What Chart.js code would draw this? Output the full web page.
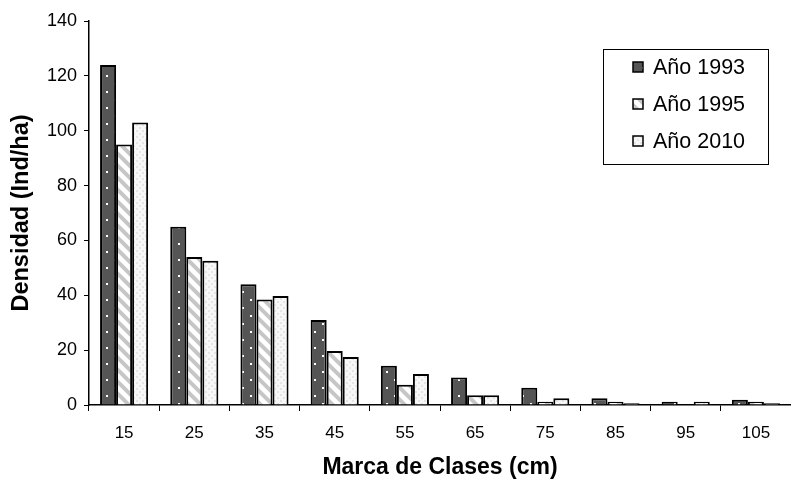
<!DOCTYPE html>
<html>
<head>
<meta charset="utf-8">
<script src="https://cdn.jsdelivr.net/npm/chart.js@4/dist/chart.umd.min.js"></script>
<style>
  html, body { margin: 0; padding: 0; background: #fff; }
  #wrap { width: 791px; height: 485px; position: relative; }
</style>
</head>
<body>
<div id="wrap"><canvas id="chart"></canvas></div>
<script>
// data
const clases = ['15', '25', '35', '45', '55', '65', '75', '85', '95', '105'];
const anio1993 = [124, 65, 44, 31, 14.3, 10, 6.3, 2.5, 1.2, 1.9];
const anio1995 = [95, 54, 38.5, 19.7, 7.4, 3.6, 1.2, 1.2, 0, 1.2];
const anio2010 = [103, 52.6, 39.7, 17.5, 11.3, 3.6, 2.5, 0.6, 1.2, 0.6];
const seriesNames = ['Año 1993', 'Año 1995', 'Año 2010'];
const yTicks = [0, 20, 40, 60, 80, 100, 120, 140];

const FONT = "'Liberation Sans', Arial, sans-serif";

// pattern fills, roughly like the old spreadsheet ones
function makePattern(kind) {
    const c = document.createElement('canvas');
    const g = c.getContext('2d');
    if (kind === 'dots') {
        c.width = 16; c.height = 16;
        g.fillStyle = '#555555';
        g.fillRect(0, 0, 16, 16);
        g.fillStyle = '#ffffff';
        g.fillRect(2, 3, 2, 2);
        g.fillRect(10, 11, 2, 2);
    } else if (kind === 'stripes') {
        c.width = 12; c.height = 12;
        g.fillStyle = '#ffffff';
        g.fillRect(0, 0, 12, 12);
        g.strokeStyle = '#c6c6c6';
        g.lineWidth = 4;
        g.beginPath();
        g.moveTo(-3, -3); g.lineTo(15, 15);
        g.moveTo(-15, -3); g.lineTo(3, 15);
        g.moveTo(9, -3); g.lineTo(27, 15);
        g.stroke();
    } else {
        c.width = 6; c.height = 6;
        g.fillStyle = '#f7f7f7';
        g.fillRect(0, 0, 6, 6);
        g.fillStyle = '#e4e4e4';
        g.fillRect(1, 1, 2, 2);
        g.fillRect(4, 4, 2, 2);
    }
    return g.createPattern(c, 'repeat');
}

const fills = [makePattern('dots'), makePattern('stripes'), makePattern('light')];

// boxed legend inside the plot, top right
const boxLegend = {
    id: 'boxLegend',
    afterDraw(chart) {
        const ctx = chart.ctx;
        ctx.save();
        ctx.strokeStyle = '#000';
        ctx.lineWidth = 1;
        ctx.fillStyle = '#fff';
        ctx.fillRect(603.5, 49.5, 165, 115);
        ctx.strokeRect(603.5, 49.5, 165, 115);
        const rows = [67, 104, 141];
        ctx.font = '21.5px ' + FONT;
        ctx.textBaseline = 'middle';
        seriesNames.forEach((name, i) => {
            ctx.fillStyle = fills[i];
            ctx.fillRect(633, rows[i] - 5, 10, 10);
            ctx.lineWidth = 1.5;
            ctx.strokeStyle = '#000';
            ctx.strokeRect(633, rows[i] - 5, 10, 10);
            ctx.fillStyle = '#000';
            ctx.fillText(name, 653, rows[i] + 1);
        });
        ctx.restore();
    }
};

const datasets = [anio1993, anio1995, anio2010].map((vals, i) => ({
    label: seriesNames[i],
    data: vals,
    backgroundColor: fills[i],
    borderColor: '#000',
    borderWidth: 2,
    barPercentage: 1.0,
    categoryPercentage: 0.685
}));

new Chart(document.getElementById('chart'), {
    type: 'bar',
    data: { labels: clases, datasets: datasets },
    plugins: [boxLegend],
    options: {
        responsive: true,
        maintainAspectRatio: false,
        animation: false,
        layout: { padding: { top: 21, right: 0, left: 0, bottom: 0 } },
        plugins: {
            legend: { display: false },
            tooltip: { enabled: false }
        },
        scales: {
            x: {
                grid: {
                    offset: true,
                    drawOnChartArea: false,
                    drawTicks: true,
                    tickLength: 6,
                    color: '#000',
                    lineWidth: 1
                },
                border: { color: '#000', width: 1.5 },
                ticks: {
                    color: '#000',
                    padding: 12,
                    maxRotation: 0,
                    font: { family: FONT, size: 17 }
                },
                title: {
                    display: true,
                    text: 'Marca de Clases (cm)',
                    color: '#000',
                    font: { family: FONT, size: 23, weight: 'bold' },
                    padding: { top: 4, bottom: 4 }
                },
                afterFit(scale) { scale.height = 80; }
            },
            y: {
                min: 0,
                max: 140,
                afterBuildTicks(scale) {
                    scale.ticks = yTicks.map(v => ({ value: v }));
                },
                grid: {
                    drawOnChartArea: false,
                    drawTicks: true,
                    tickLength: 5,
                    color: '#000',
                    lineWidth: 1
                },
                border: { color: '#000', width: 1.5 },
                ticks: {
                    color: '#000',
                    padding: 7,
                    font: { family: FONT, size: 18 }
                },
                title: {
                    display: true,
                    text: 'Densidad (Ind/ha)',
                    color: '#000',
                    font: { family: FONT, size: 23.5, weight: 'bold' },
                    padding: { top: 7, bottom: 0 }
                },
                afterFit(scale) { scale.width = 89; }
            }
        }
    }
});
</script>
</body>
</html>
